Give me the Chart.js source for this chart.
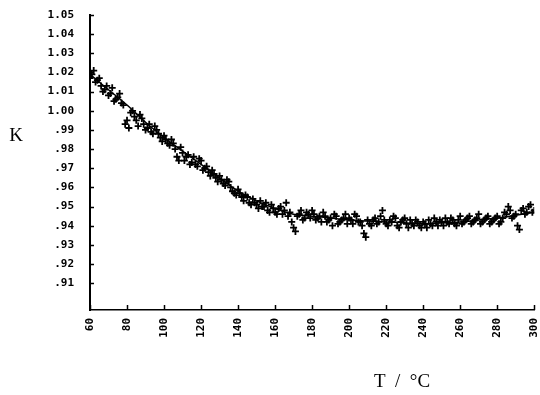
<!DOCTYPE html>
<html>
<head>
<meta charset="utf-8">
<script src="https://cdn.jsdelivr.net/npm/chart.js@4/dist/chart.umd.min.js"></script>
<style>html,body{margin:0;padding:0;background:#fff;}canvas{display:block;}</style>
</head>
<body>
<canvas id="c" width="540" height="395"></canvas>
<script>
// Temperature (°C) readings, even set
const tempEven = [60,62,64,66,68,70,72,74,76,78,80,82,84,86,88,90,92,94,96,98,100,102,104,106,108,110,112,114,116,118,120,122,124,126,128,130,132,134,136,138,140,142,144,146,148,150,152,154,156,158,160,162,164,166,168,170,172,174,176,178,180,182,184,186,188,190,192,194,196,198,200,202,204,206,208,210,212,214,216,218,220,222,224,226,228,230,232,234,236,238,240,242,244,246,248,250,252,254,256,258,260,262,264,266,268,270,272,274,276,278,280,282,284,286,288,290,292,294,296,298,300];
const kEven = [1.017,1.021,1.016,1.013,1.011,1.008,1.012,1.006,1.009,1.003,0.995,0.999,0.997,0.992,0.996,0.990,0.993,0.988,0.990,0.986,0.987,0.983,0.985,0.980,0.974,0.978,0.976,0.972,0.976,0.971,0.974,0.970,0.968,0.969,0.965,0.966,0.962,0.964,0.960,0.957,0.959,0.955,0.956,0.952,0.954,0.951,0.953,0.950,0.948,0.951,0.947,0.949,0.946,0.952,0.947,0.939,0.945,0.948,0.944,0.946,0.948,0.943,0.945,0.947,0.942,0.944,0.946,0.941,0.943,0.946,0.944,0.941,0.945,0.942,0.936,0.943,0.940,0.944,0.942,0.948,0.941,0.943,0.945,0.940,0.942,0.944,0.939,0.941,0.943,0.940,0.942,0.939,0.941,0.944,0.940,0.942,0.944,0.941,0.943,0.940,0.945,0.942,0.944,0.941,0.943,0.946,0.942,0.944,0.941,0.943,0.945,0.942,0.947,0.950,0.944,0.946,0.938,0.949,0.947,0.951,0.948];
// Temperature (°C) readings, odd set
const tempOdd = [61,63,65,67,69,71,73,75,77,79,81,83,85,87,89,91,93,95,97,99,101,103,105,107,109,111,113,115,117,119,121,123,125,127,129,131,133,135,137,139,141,143,145,147,149,151,153,155,157,159,161,163,165,167,169,171,173,175,177,179,181,183,185,187,189,191,193,195,197,199,201,203,205,207,209,211,213,215,217,219,221,223,225,227,229,231,233,235,237,239,241,243,245,247,249,251,253,255,257,259,261,263,265,267,269,271,273,275,277,279,281,283,285,287,289,291,293,295,297,299];
const kOdd = [1.019,1.015,1.017,1.010,1.013,1.009,1.005,1.007,1.004,0.993,0.991,1.000,0.995,0.998,0.993,0.991,0.989,0.992,0.988,0.984,0.985,0.982,0.983,0.976,0.981,0.974,0.977,0.973,0.972,0.975,0.969,0.971,0.966,0.967,0.963,0.964,0.961,0.963,0.958,0.956,0.957,0.953,0.955,0.951,0.952,0.949,0.950,0.952,0.947,0.949,0.946,0.950,0.948,0.945,0.942,0.937,0.946,0.943,0.947,0.944,0.946,0.944,0.942,0.945,0.943,0.940,0.945,0.942,0.944,0.941,0.943,0.946,0.942,0.940,0.934,0.941,0.943,0.941,0.945,0.943,0.940,0.942,0.944,0.939,0.943,0.941,0.943,0.940,0.942,0.939,0.941,0.943,0.940,0.942,0.943,0.940,0.942,0.944,0.941,0.943,0.941,0.943,0.945,0.942,0.944,0.941,0.943,0.945,0.942,0.944,0.941,0.944,0.946,0.948,0.945,0.940,0.948,0.946,0.950,0.947];
// Fitted curve
const fitT = [60,70,80,90,100,110,120,130,140,150,160,170,180,190,200,210,220,230,240,250,260,270,280,290,300];
const fitK = [1.019,1.011,1.003,0.994,0.986,0.979,0.972,0.965,0.958,0.953,0.949,0.946,0.945,0.944,0.943,0.9425,0.942,0.9415,0.941,0.9415,0.942,0.943,0.944,0.9455,0.947];
// Tick labels
const xTicks = [60,80,100,120,140,160,180,200,220,240,260,280,300];
const yTicks = [0.91,0.92,0.93,0.94,0.95,0.96,0.97,0.98,0.99,1.00,1.01,1.02,1.03,1.04,1.05];

const toPts = (xs, ys) => xs.map((x, i) => ({x: x, y: ys[i]}));
const tickFont = {family: 'DejaVu Sans Mono', size: 11, weight: 'bold'};

const decor = {
  id: 'decor',
  afterDraw(chart) {
    const ctx = chart.ctx;
    const xs = chart.scales.x, ys = chart.scales.y;
    const a = chart.chartArea;
    ctx.save();
    ctx.strokeStyle = '#000';
    ctx.lineWidth = 1.5;
    ctx.beginPath();
    yTicks.forEach(v => {
      const py = Math.round(ys.getPixelForValue(v)) + 0.5;
      ctx.moveTo(a.left, py); ctx.lineTo(a.left + 4, py);
    });
    xTicks.forEach(v => {
      const px = Math.round(xs.getPixelForValue(v)) + 0.5;
      ctx.moveTo(px, a.bottom); ctx.lineTo(px, a.bottom - 5);
    });
    ctx.stroke();
    ctx.fillStyle = '#000';
    ctx.font = '19px "Liberation Serif"';
    ctx.textAlign = 'center';
    ctx.textBaseline = 'middle';
    ctx.fillText('K', 16, 136);
    ctx.fillText('T  /  \u00B0C', 402, 382);
    ctx.restore();
  }
};

new Chart(document.getElementById('c'), {
  type: 'scatter',
  data: {
    datasets: [
      {label: 'fit', data: toPts(fitT, fitK), showLine: true, pointRadius: 0, borderColor: '#000', borderWidth: 1.5, cubicInterpolationMode: 'monotone', order: 2},
      {label: 'even', data: toPts(tempEven, kEven), pointStyle: 'cross', pointRadius: 3.5, borderWidth: 1.8, borderColor: '#000', backgroundColor: '#000', order: 1},
      {label: 'odd', data: toPts(tempOdd, kOdd), pointStyle: 'cross', pointRadius: 3.5, borderWidth: 1.8, borderColor: '#000', backgroundColor: '#000', order: 1}
    ]
  },
  options: {
    responsive: false,
    animation: false,
    layout: {padding: {top: 15, right: 5, left: 0, bottom: 0}},
    plugins: {legend: {display: false}, tooltip: {enabled: false}},
    scales: {
      x: {
        type: 'linear', min: 60, max: 300,
        afterFit(s) { s.height = 85; s.paddingLeft = 0; s.paddingRight = 0; },
        afterBuildTicks(s) { s.ticks = xTicks.map(v => ({value: v})); },
        grid: {display: false, drawTicks: false},
        border: {display: true, color: '#000', width: 1.5},
        ticks: {color: '#000', font: tickFont, minRotation: 90, maxRotation: 90, autoSkip: false, padding: 8,
          callback: v => String(v)}
      },
      y: {
        type: 'linear', min: 0.896, max: 1.05,
        afterFit(s) { s.width = 90; s.paddingTop = 0; s.paddingBottom = 0; },
        afterBuildTicks(s) { s.ticks = yTicks.map(v => ({value: v})); },
        grid: {display: false, drawTicks: false},
        border: {display: true, color: '#000', width: 2},
        ticks: {color: '#000', font: tickFont, padding: 16,
          callback: v => v >= 1 ? v.toFixed(2) : v.toFixed(2).slice(1)}
      }
    }
  },
  plugins: [decor]
});
</script>
</body>
</html>
